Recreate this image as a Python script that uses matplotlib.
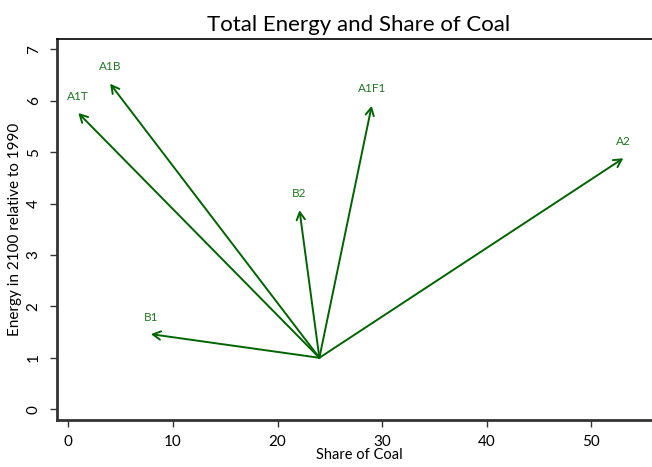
import matplotlib
matplotlib.use("Agg")
import matplotlib.pyplot as plt

scenarios = ["A1T", "A1B", "B2", "A1F1", "A2", "B1"]
coal_share = [0.96, 4.0, 22.1, 29.0, 53.05, 7.9]
energy = [5.76, 6.33, 3.87, 5.9, 4.88, 1.46]
origin_share = 24.0
origin_energy = 1.0

plt.rcParams['font.family'] = ['Lato', 'DejaVu Sans']

fig = plt.figure(figsize=(6.52, 4.67), dpi=100)
ax = fig.add_axes([0.0879, 0.1006, 0.925, 0.8159])

line_col = '#006400'
text_col = '#1f7a1f'
for name, x, y in zip(scenarios, coal_share, energy):
    ax.annotate('', xy=(x, y), xytext=(origin_share, origin_energy),
                arrowprops=dict(arrowstyle='->,head_length=0.55,head_width=0.3',
                                color=line_col, lw=1.4, shrinkA=0, shrinkB=0))
    ax.text(x, y + 0.33, name, color=text_col, fontsize=8.5, ha='center', va='center')

ax.set_xlim(-1.05, 56.6)
ax.set_ylim(-0.21, 7.2)
ax.set_xticks([0, 10, 20, 30, 40, 50])
ax.set_yticks(range(8))
ax.spines['right'].set_visible(False)
ax.spines['top'].set_color('black')
ax.spines['top'].set_linewidth(1.2)
for s in ['left', 'bottom']:
    ax.spines[s].set_color('#333333')
    ax.spines[s].set_linewidth(2)
ax.tick_params(direction='out', length=5, width=1, colors='#333333', labelcolor='black', labelsize=11)
ax.tick_params(axis='x', pad=6)
ax.tick_params(axis='y', pad=7)
for lab in ax.get_yticklabels():
    lab.set_rotation(90)
    lab.set_va('center')
ax.set_title('Total Energy and Share of Coal', fontsize=16, pad=6)
ax.set_xlabel('Share of Coal', fontsize=10.5, labelpad=-1)
ax.set_ylabel('Energy in 2100 relative to 1990', fontsize=11, labelpad=3)

fig.savefig('out.png', dpi=100)
